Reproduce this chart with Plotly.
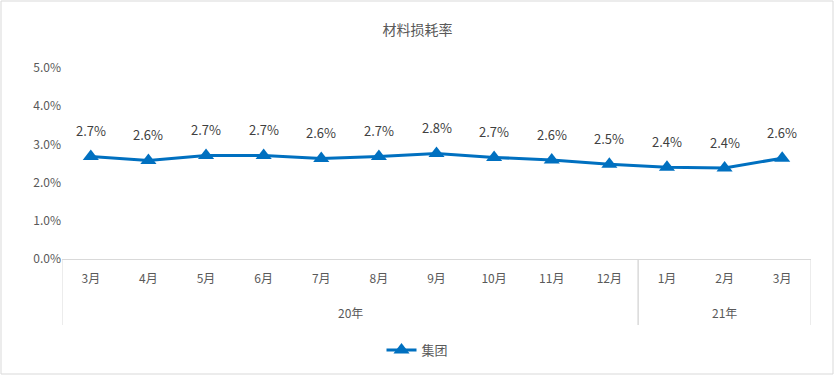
import plotly.graph_objects as go

years = ["20年"] * 10 + ["21年"] * 3
months = ["3月", "4月", "5月", "6月", "7月", "8月", "9月", "10月", "11月", "12月", "1月", "2月", "3月"]
loss_rate = [0.0268, 0.0258, 0.0271, 0.0271, 0.0263, 0.0268, 0.0276, 0.0266, 0.0259, 0.0248, 0.0240, 0.0238, 0.0264]
series_name = "集团"
title_text = "材料损耗率"
y_ticks = [0, 0.01, 0.02, 0.03, 0.04, 0.05]

FONT = "Noto Sans CJK SC"
BLUE = "#0070C0"
GRID = "#D9D9D9"
TXT = "#595959"

L, R, T, B = 62, 24, 68, 117
W, H = 835, 376
pw, ph = W - L - R, H - T - B
base = H - B  # pixel row of y=0

xs = list(range(len(months)))

fig = go.Figure()
fig.add_trace(go.Scatter(
    x=xs, y=loss_rate, mode="lines+markers", name=series_name,
    line=dict(color=BLUE, width=3),
    marker=dict(symbol="triangle-up", size=14, color=BLUE),
))
for xi, v in zip(xs, loss_rate):
    fig.add_annotation(x=xi, y=v, text=f"{v*100:.1f}%", showarrow=False,
                       yshift=26, font=dict(family=FONT, size=13, color="#404040"))

# group labels and dividers
groups = []
for i, yr in enumerate(years):
    if not groups or groups[-1][0] != yr:
        groups.append([yr, i, i])
    else:
        groups[-1][2] = i
div_y0 = -(325 - base) / ph
for yr, a, b in groups:
    fig.add_annotation(x=(a + b) / 2, y=-(312 - base) / ph, yref="paper", text=yr,
                       showarrow=False, yanchor="middle",
                       font=dict(family=FONT, size=12, color=TXT))
    for xd in (a - 0.5, b + 0.5):
        fig.add_shape(type="line", xref="x", yref="paper", x0=xd, x1=xd, y0=div_y0, y1=0,
                      line=dict(color=GRID, width=1))

fig.add_shape(type="rect", xref="paper", yref="paper",
              x0=(1 - L) / pw, x1=(W - 2 - L) / pw,
              y0=-(H - 2 - base) / ph, y1=(base - 1) / ph,
              line=dict(color=GRID, width=1), layer="below")

fig.update_layout(
    width=W, height=H, margin=dict(l=L, r=R, t=T, b=B, autoexpand=False),
    paper_bgcolor="white", plot_bgcolor="white",
    title=dict(text=title_text, x=0.5, xref="container", xanchor="center",
               y=1 - 30 / H, yanchor="middle",
               font=dict(family=FONT, size=14, color=TXT)),
    showlegend=True,
    legend=dict(orientation="h", xref="container", x=0.5, xanchor="center",
                y=-(350 - base) / ph, yanchor="middle",
                font=dict(family=FONT, size=13, color=TXT)),
    xaxis=dict(range=[-0.5, len(months) - 0.5], tickvals=xs, ticktext=months,
               showline=True, linecolor=GRID, linewidth=1, showgrid=False, zeroline=False,
               ticks="", ticklabelstandoff=9, automargin=False,
               tickfont=dict(family=FONT, size=12, color=TXT)),
    yaxis=dict(range=[0, 0.05], tickvals=y_ticks, tickformat=".1%", showgrid=False,
               zeroline=False, showline=False, ticks="", automargin=False,
               tickfont=dict(family=FONT, size=12, color=TXT)),
)
fig.write_html("out.html", config={"displayModeBar": False},
               post_script="document.body.style.margin='0';")
